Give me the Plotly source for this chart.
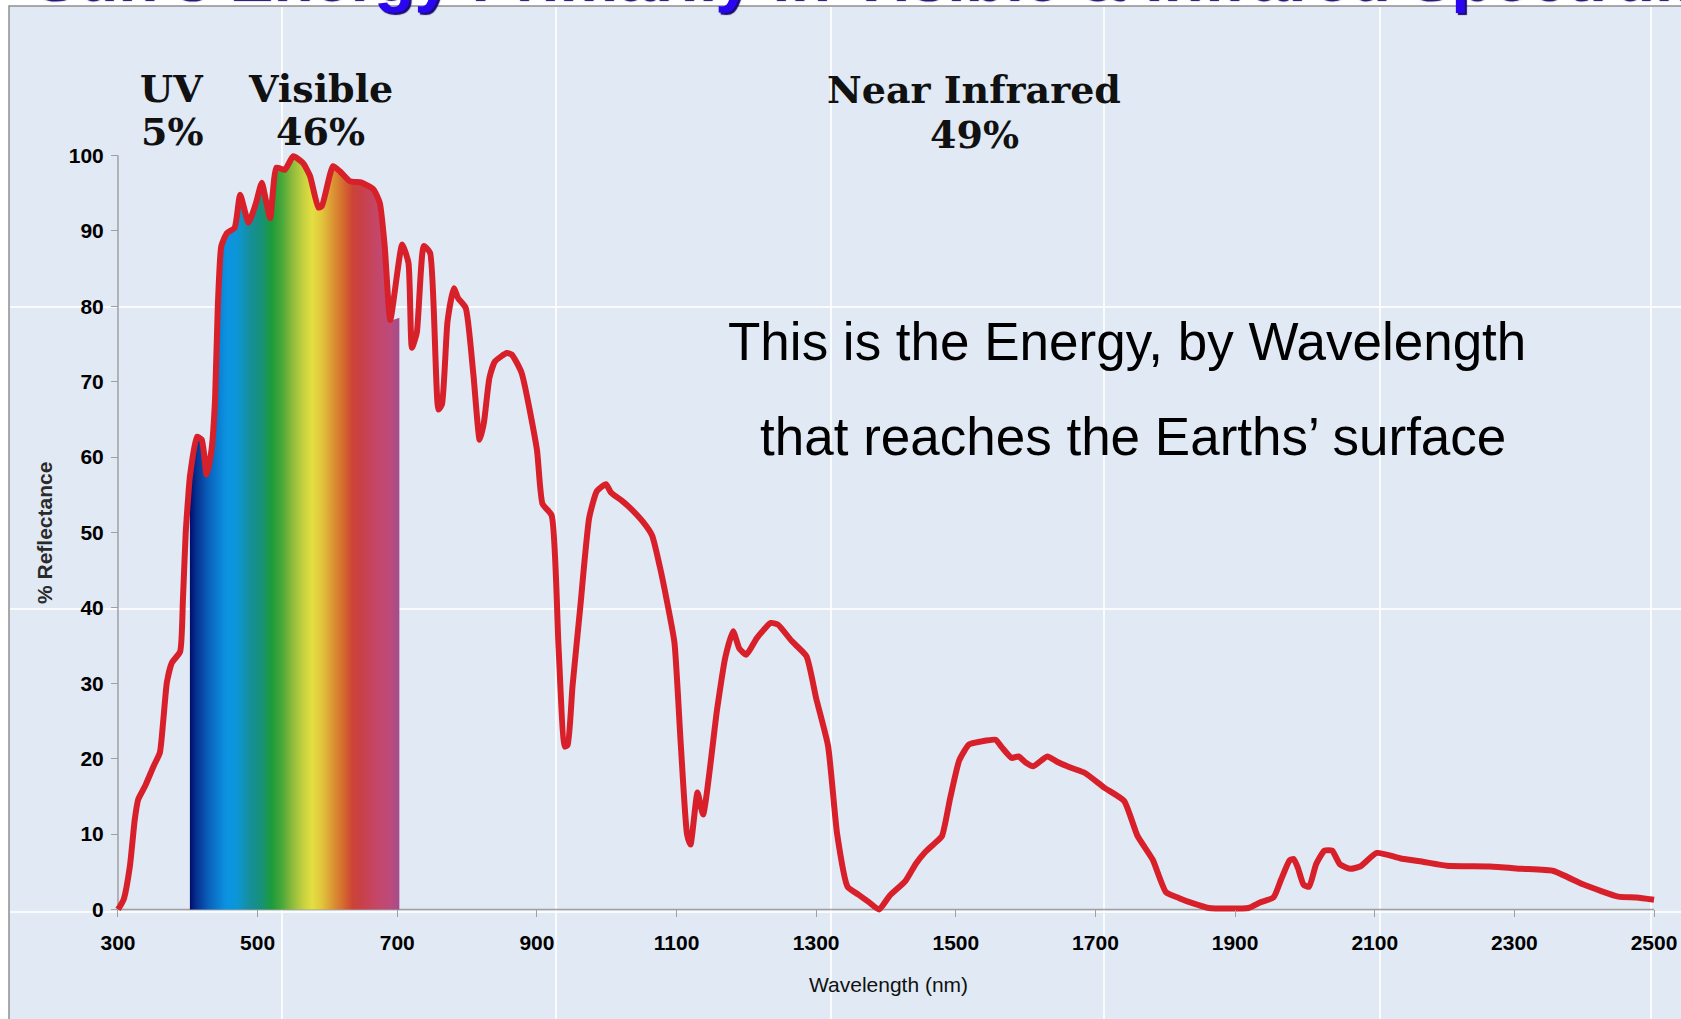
import plotly.graph_objects as go

# solar spectrum at the surface
WAVELENGTH_NM = [
    300, 308, 317, 324, 329, 339, 351, 360, 365, 370, 377, 389, 393, 397, 400,
    403, 413, 420, 427, 434, 439, 443, 448, 456, 467, 475, 487, 497, 506, 512,
    518, 527, 539, 551, 565, 575, 587, 592, 608, 618, 632, 649, 666, 675, 682,
    690, 707, 716, 721, 728, 738, 747, 759, 764, 772, 781, 787, 798, 809, 818,
    824, 832, 840, 857, 864, 878, 900, 908, 921, 931, 940, 944, 951, 962, 975,
    986, 999, 1006, 1022, 1033, 1052, 1065, 1076, 1086, 1097, 1106, 1115, 1120,
    1130, 1138, 1158, 1170, 1181, 1190, 1200, 1215, 1235, 1245, 1265, 1286,
    1300, 1317, 1330, 1345, 1360, 1375, 1390, 1405, 1428, 1443, 1455, 1470,
    1480, 1492, 1505, 1519, 1537, 1557, 1566, 1580, 1590, 1600, 1611, 1631,
    1645, 1665, 1685, 1712, 1741, 1760, 1782, 1801, 1820, 1840, 1862, 1919,
    1935, 1955, 1966, 1978, 1984, 1990, 1998, 2006, 2016, 2028, 2039, 2050,
    2065, 2079, 2103, 2136, 2170, 2203, 2265, 2310, 2356, 2399, 2449, 2475,
    2500,
]
ENERGY_PCT = [
    0, 1.3, 5.7, 11.9, 14.6, 16.4, 19, 20.8, 25.2, 30.1, 32.7, 34.2, 41, 50, 54,
    57.4, 62.7, 62.3, 57.7, 61, 67.6, 80, 88, 89.7, 90.4, 94.8, 91.1, 93.5, 96.4, 94,
    91.7, 98.4, 98.1, 99.9, 99, 97.3, 93.1, 93.3, 98.6, 97.9, 96.6, 96.4, 95.5, 93.7, 88,
    78.2, 88.2, 85.8, 74.5, 76.5, 88, 87.1, 66.3, 67, 78, 82.4, 81.1, 79.8, 71, 62.3,
    64.5, 70.5, 72.7, 73.8, 73.6, 71.2, 61, 53.8, 52.3, 34.8, 21.6, 21.8, 29.6, 40, 52,
    55.5, 56.4, 55.3, 54.2, 53.3, 51.4, 49.6, 45.5, 41, 35.4, 22, 10, 8.6,
    15.5, 12.6, 26.5, 33.5, 36.9, 34.6, 33.8, 36, 38, 37.8, 35.6, 33.6,
    28, 21.7, 10, 3, 2, 1, 0, 1.8, 3.8, 6.1, 7.5, 8.8,
    9.7, 14.8, 19.8, 21.9, 22.3, 22.5, 21.5, 20.1, 20.3, 19.5, 19, 20.3,
    19.6, 18.8, 18.1, 16.2, 14.4, 9.8, 6.6, 2.3, 1.5, 0.8, 0.2, 0.2,
    0.9, 1.6, 4, 6.5, 6.7, 5.5, 3.3, 3, 6, 7.8, 7.8, 6,
    5.4, 5.7, 7.5, 6.8, 6.3, 5.8, 5.7, 5.4, 5.1, 3.3, 1.7, 1.6,
    1.3,
]

# rainbow band under the visible part of the curve
VISIBLE_START_NM = 403
VISIBLE_DIP_NM = 690
VISIBLE_EDGE_NM = 703
VISIBLE_EDGE_PCT = 78.5

X_TICKS = list(range(300, 2501, 200))
Y_TICKS = list(range(0, 101, 10))

BAND_NAMES = ["UV", "Visible", "Near Infrared"]
BAND_SHARES = ["5%", "46%", "49%"]

TITLE = "Sun's Energy Primarily in Visible & Infrared Spectrum"
NOTE_LINES = ["This is the Energy, by Wavelength", "that reaches the Earths\u2019 surface"]

RED = "#d8202a"
BG = "#e0e9f4"
AXIS_GREY = "#a0a0a0"
SANS = "Liberation Sans, Arial, sans-serif"
SERIF = "DejaVu Serif, serif"

RAINBOW = [
    (400, "#00005e"), (412, "#06308f"), (430, "#0a62bc"), (455, "#0b93e2"),
    (470, "#0c96d8"), (490, "#158f98"), (505, "#17917a"), (520, "#1c9b3a"),
    (535, "#4aa83a"), (548, "#86b93c"), (565, "#c4d03f"), (578, "#e3df42"),
    (592, "#e2c53c"), (606, "#dc9a34"), (624, "#d4662f"), (636, "#cc4436"),
    (650, "#c8404a"), (672, "#c4476a"), (690, "#bd4a7a"), (703, "#a34d8a"),
]

W, H = 1681, 1019
L, R, T, B = 111, 20, 148, 102
PW, PH = W - L - R, H - T - B
X_RANGE = [290, 2510]
Y_RANGE = [-1, 101]


def px(x):
    return (x - L) / PW


def py(y):
    return (H - B - y) / PH


fill_x = [w for w in WAVELENGTH_NM if VISIBLE_START_NM <= w <= VISIBLE_DIP_NM] + [VISIBLE_EDGE_NM]
fill_y = [v for w, v in zip(WAVELENGTH_NM, ENERGY_PCT) if VISIBLE_START_NM <= w <= VISIBLE_DIP_NM]
fill_y.append(VISIBLE_EDGE_PCT)

lo, hi = RAINBOW[0][0], RAINBOW[-1][0]
scale = [[(w - lo) / (hi - lo), c] for w, c in RAINBOW]

fig = go.Figure()
fig.add_trace(go.Scatter(
    x=fill_x, y=fill_y, mode="lines", fill="tozeroy",
    line=dict(width=0, shape="spline", smoothing=0.5),
    fillgradient=dict(type="horizontal", colorscale=scale, start=lo, stop=hi),
    hoverinfo="skip", showlegend=False,
))
fig.add_trace(go.Scatter(
    x=WAVELENGTH_NM, y=ENERGY_PCT, mode="lines",
    line=dict(color=RED, width=6, shape="spline", smoothing=0.5),
    showlegend=False,
))

shapes = [
    dict(type="rect", xref="paper", yref="paper", x0=px(9), x1=px(W + 20), y0=py(6), y1=py(H + 20),
         fillcolor=BG, line=dict(color="#8f8f8f", width=1.5), layer="below"),
]
for x in [282, 556, 831, 1104, 1380, 1651]:
    shapes.append(dict(type="line", xref="paper", yref="paper", x0=px(x), x1=px(x), y0=py(7), y1=py(H),
                       line=dict(color="rgba(255,255,255,0.8)", width=2), layer="below"))
for y in [307, 609, 912]:
    shapes.append(dict(type="line", xref="paper", yref="paper", x0=px(10), x1=px(W), y0=py(y), y1=py(y),
                       line=dict(color="rgba(255,255,255,0.8)", width=2), layer="below"))
shapes += [
    dict(type="line", x0=300, x1=2500, y0=0, y1=0, line=dict(color=AXIS_GREY, width=1.5), layer="below"),
    dict(type="line", x0=300, x1=300, y0=0, y1=100, line=dict(color=AXIS_GREY, width=1.5), layer="below"),
]


def label(text, x, y, font, **kw):
    return dict(text=text, xref="paper", yref="paper", x=px(x), y=py(y), xanchor="center",
                yanchor="middle", showarrow=False, font=font, **kw)


annotations = [
    # the slide title runs off the top of the picture, as in the source
    dict(text=TITLE, xref="paper", yref="paper", x=px(30), y=py(15), xanchor="left", yanchor="bottom",
         showarrow=False,
         font=dict(family=SANS, size=66, color="#2a06f0", weight="bold",
                   shadow="2px 2px 1px #1a0b70")),
    label("% Reflectance", 44, 533, dict(family=SANS, size=21, color="#2a2a2a", weight="bold"),
          textangle=-90),
    label("Wavelength (nm)", 888, 984, dict(family=SANS, size=21, color="#111111")),
]
band_font = dict(family=SERIF, size=38, color="#111111", weight="bold")
for name, share, cx, y1, y2 in zip(BAND_NAMES, BAND_SHARES, [172, 320, 974], [88, 88, 90], [132, 132, 134]):
    annotations.append(label(name, cx, y1, band_font))
    annotations.append(label(share, cx, y2, band_font))
note_font = dict(family=SANS, size=53, color="#000000")
for line, cx, cy in zip(NOTE_LINES, [1127, 1133], [341, 436]):
    annotations.append(label(line, cx, cy, note_font))

tick_font = dict(family=SANS, size=21, color="#000000", weight="bold")
fig.update_layout(
    width=W, height=H,
    margin=dict(l=L, r=R, t=T, b=B, autoexpand=False),
    paper_bgcolor="#ffffff",
    plot_bgcolor="rgba(0,0,0,0)",
    shapes=shapes,
    annotations=annotations,
    xaxis=dict(range=X_RANGE, tickvals=X_TICKS, ticks="outside", ticklen=7, tickcolor=AXIS_GREY,
               showgrid=False, zeroline=False, showline=False, anchor="free",
               position=(0 - Y_RANGE[0]) / (Y_RANGE[1] - Y_RANGE[0]),
               tickfont=tick_font, ticklabelstandoff=7),
    yaxis=dict(range=Y_RANGE, tickvals=Y_TICKS, ticks="outside", ticklen=7, tickcolor=AXIS_GREY,
               showgrid=False, zeroline=False, showline=False, anchor="free",
               position=(300 - X_RANGE[0]) / (X_RANGE[1] - X_RANGE[0]),
               tickfont=tick_font, ticklabelstandoff=3),
)

# the page's default body margin would push the fixed-size figure off screen
fig.write_html(
    "out.html",
    config={"displayModeBar": False},
    post_script="document.body.style.margin='0';document.body.style.overflow='hidden';",
)
